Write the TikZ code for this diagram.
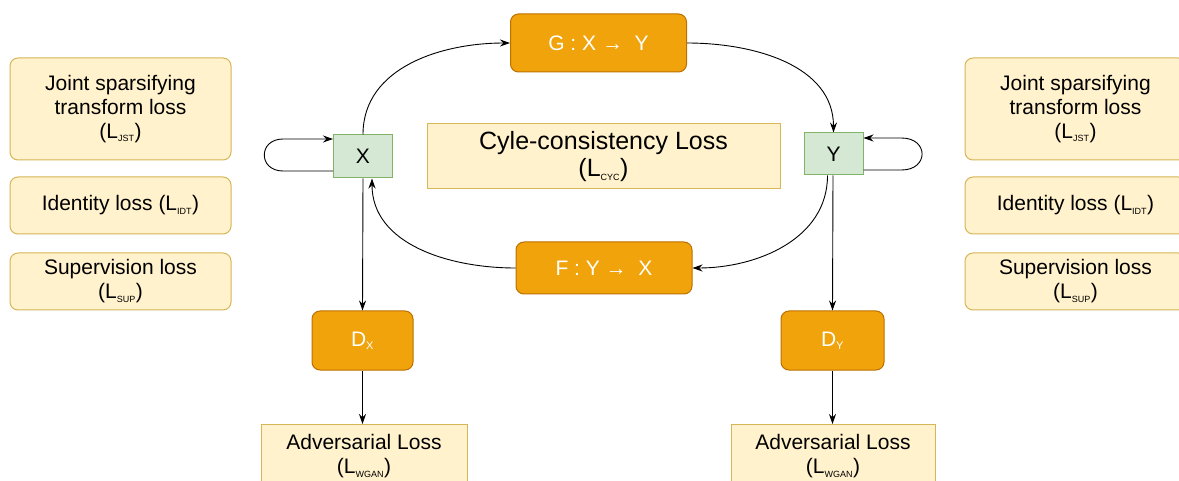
\documentclass[tikz,border=0pt]{standalone}
\usepackage{fontspec}
\setmainfont{Liberation Sans}
\usetikzlibrary{arrows.meta}
\definecolor{genfill}{HTML}{F0A30A}
\definecolor{genline}{HTML}{BD7000}
\definecolor{lossfill}{HTML}{FFF2CC}
\definecolor{lossline}{HTML}{D6B656}
\definecolor{varfill}{HTML}{D5E8D4}
\definecolor{varline}{HTML}{82B366}
\newcommand{\lsub}[1]{\textsubscript{\fontsize{9}{9}\selectfont #1}}
\newcommand{\dsub}[1]{\textsubscript{\fontsize{11}{11}\selectfont #1}}
\tikzset{
  lossbox/.style={draw=lossline, fill=lossfill, line width=1pt, rounded corners=8pt,
    align=center, inner sep=0pt, font=\fontsize{21}{24}\selectfont},
  flatloss/.style={lossbox, rounded corners=0pt},
  genbox/.style={draw=genline, fill=genfill, line width=1pt, rounded corners=8pt,
    text=white, inner sep=0pt, font=\fontsize{21}{24}\selectfont},
  varbox/.style={draw=varline, fill=varfill, line width=1pt, inner sep=0pt,
    font=\fontsize{21}{24}\selectfont},
  link/.style={line width=0.9pt, -{Stealth[length=10pt,width=7pt]}}
}
\begin{document}
\begin{tikzpicture}[x=1pt, y=-1pt]
  \clip (0,0) rectangle (1179,481);
  \fill[white] (0,0) rectangle (1179,481);

  % losses on both sides
  \node[lossbox, minimum width=221, minimum height=102] (jstL) at (120.5,109)
    {Joint sparsifying\\transform loss\\(L\lsub{JST})};
  \node[lossbox, minimum width=221, minimum height=57] (idtL) at (120.5,205.5)
    {Identity loss (L\lsub{IDT})};
  \node[lossbox, minimum width=221, minimum height=57] (supL) at (120.5,281.5)
    {Supervision loss\\(L\lsub{SUP})};
  \node[lossbox, minimum width=221, minimum height=102] (jstR) at (1075.5,109)
    {Joint sparsifying\\transform loss\\(L\lsub{JST})};
  \node[lossbox, minimum width=221, minimum height=57] (idtR) at (1075.5,205.5)
    {Identity loss (L\lsub{IDT})};
  \node[lossbox, minimum width=221, minimum height=57] (supR) at (1075.5,281.5)
    {Supervision loss\\(L\lsub{SUP})};

  % domains and generators
  \node[varbox, minimum width=59, minimum height=43] (X) at (363,156.5) {X};
  \node[varbox, minimum width=59, minimum height=42] (Y) at (833.5,154) {Y};
  \node[genbox, minimum width=176, minimum height=58] (G) at (598.5,43) {G : X {\fontsize{21}{21}\selectfont →}\ \ Y};
  \node[genbox, minimum width=176, minimum height=52] (F) at (604,268) {F : Y {\fontsize{21}{21}\selectfont →}\ \ X};
  \node[flatloss, minimum width=353, minimum height=65, font=\fontsize{25}{27}\selectfont] (cyc) at (603.5,156.5)
    {Cyle-consistency Loss\\(L\lsub{CYC})};

  % discriminators
  \node[genbox, minimum width=101, minimum height=59] (Dx) at (362.5,340.5) {D\dsub{X}};
  \node[genbox, minimum width=103, minimum height=59] (Dy) at (832.5,340.5) {D\dsub{Y}};
  \node[flatloss, minimum width=206, minimum height=64, anchor=north] (advL) at (364,424)
    {Adversarial Loss\\(L\lsub{WGAN})};
  \node[flatloss, minimum width=204, minimum height=64, anchor=north] (advR) at (833,424)
    {Adversarial Loss\\(L\lsub{WGAN})};

  % cycle
  \draw[link] (X.north) to[out=90, in=180] (G.west);
  \draw[link] (G.east) to[out=0, in=90] (Y.north);
  \draw[link] ([xshift=-6]Y.south) to[out=-90, in=0] (F.east);
  \draw[link] (F.west) to[out=180, in=-90] ([xshift=9]X.south);

  % identity loops
  \draw[link] ([yshift=-14.5]X.west) -- ++(-50,0) to[out=180, in=180, looseness=2] ++(0,-32) -- ([yshift=17.5]X.west);
  \draw[link] ([yshift=-16]Y.east) -- ++(38,0) to[out=0, in=0, looseness=2.2] ++(0,-32) -- ([yshift=16]Y.east);

  % to discriminators
  \draw[link] (X.south) -- (Dx.north);
  \draw[link] ([xshift=-0.5]Y.south) -- (Dy.north);
  \draw[link] (Dx.south) -- (Dx.south |- advL.north);
  \draw[link] (Dy.south) -- (Dy.south |- advR.north);
\end{tikzpicture}
\end{document}
